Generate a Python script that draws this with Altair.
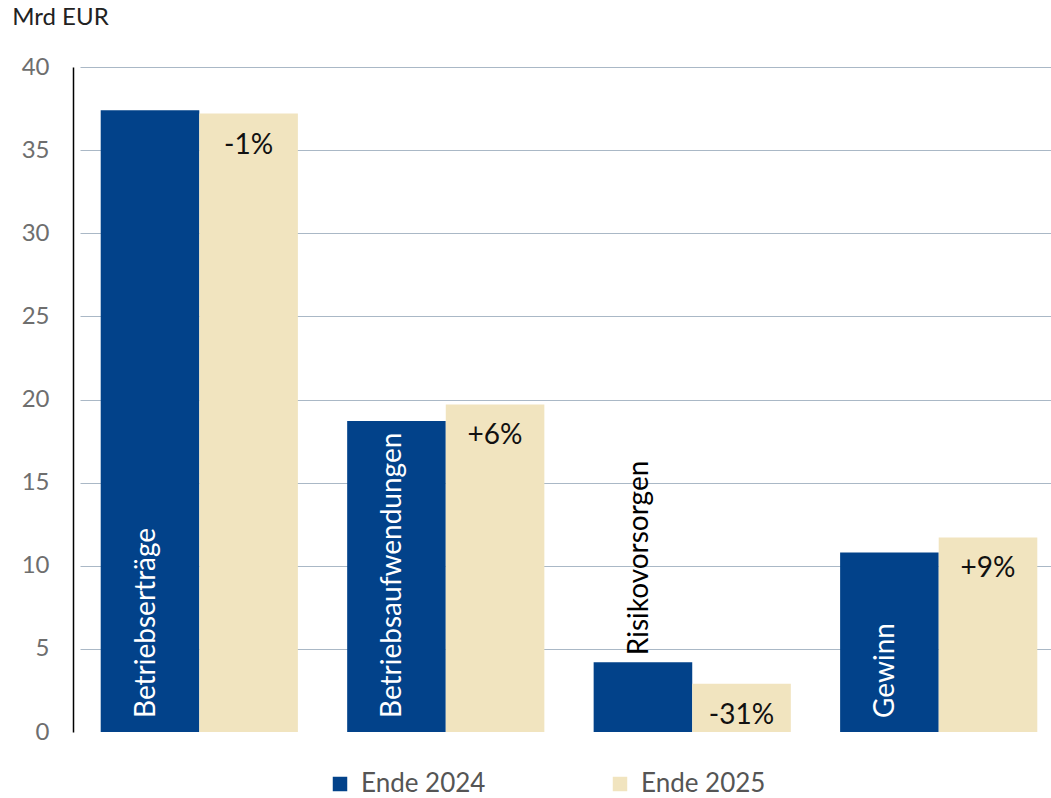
import altair as alt
import pandas as pd

categories = ["Betriebserträge", "Betriebsaufwendungen", "Risikovorsorgen", "Gewinn"]
values_2024 = [37.4, 18.7, 4.2, 10.8]
values_2025 = [37.2, 19.7, 2.9, 11.7]
changes = ["-1%", "+6%", "-31%", "+9%"]
series = ["Ende 2024", "Ende 2025"]
y_ticks = [0, 5, 10, 15, 20, 25, 30, 35, 40]

rows = []
for c, a, b, ch in zip(categories, values_2024, values_2025, changes):
    rows.append({"cat": c, "year": series[0], "value": a, "change": ch})
    rows.append({"cat": c, "year": series[1], "value": b, "change": ch})
df = pd.DataFrame(rows)

DARK = "#02428a"
LIGHT = "#f1e4bf"
FONT = "Lato"

x_enc = alt.X("cat:N", sort=categories, axis=None,
              scale=alt.Scale(range=[7, 985], paddingInner=0.2, paddingOuter=0.084))
xo_enc = alt.XOffset("year:N", sort=series, scale=alt.Scale(paddingInner=0, paddingOuter=0))

base = alt.Chart(df).encode(x=x_enc, xOffset=xo_enc)

bars = base.mark_bar().encode(
    y=alt.Y("value:Q", scale=alt.Scale(domain=[0, 40], nice=False),
            axis=alt.Axis(values=y_ticks, title=None, ticks=False, domain=True,
                          domainColor="#000000", domainWidth=1.5,
                          gridColor=alt.condition(alt.datum.value == 0, alt.value("transparent"), alt.value("#aab8c6")),
                          gridWidth=1, labelFont=FONT, labelFontSize=24,
                          labelColor="#6e6e6e", labelPadding=24)),
    color=alt.Color("year:N", sort=series,
                    scale=alt.Scale(domain=series, range=[DARK, LIGHT]),
                    legend=alt.Legend(title=None, orient="none", legendX=254, legendY=704,
                                      direction="horizontal", symbolType="square",
                                      symbolSize=210, symbolStrokeWidth=0,
                                      labelFont=FONT, labelFontSize=26, labelColor="#555555",
                                      labelOffset=8, columnPadding=121)),
)

inside = base.transform_filter(alt.datum.year == series[0]).transform_filter(
    alt.datum.value >= 8).mark_text(
    angle=270, align="left", baseline="middle", dx=14, dy=-3,
    font=FONT, fontSize=28, color="white").encode(
    y=alt.datum(0), text="cat:N")

outside = base.transform_filter(alt.datum.year == series[0]).transform_filter(
    alt.datum.value < 8).mark_text(
    angle=270, align="left", baseline="middle", dx=7, dy=-3,
    font=FONT, fontSize=28, color="black").encode(
    y="value:Q", text="cat:N")

pct = base.transform_filter(alt.datum.year == series[1]).mark_text(
    align="center", baseline="top", dy=18, font=FONT, fontSize=28, color="#111111").encode(
    y="value:Q", text="change:N")

chart = alt.layer(bars, inside, outside, pct).properties(
    width=978, height=665,
    autosize=alt.AutoSizeParams(type="none"),
    padding={"left": 73, "top": 67, "right": 0, "bottom": 66},
    title=alt.TitleParams(text="Mrd EUR", anchor="start", font=FONT, fontSize=24,
                          fontWeight="normal", color="#222222", dx=-9, offset=25),
).configure_view(stroke=None)

chart.save("out.html", embed_options={"renderer": "svg", "actions": False})
